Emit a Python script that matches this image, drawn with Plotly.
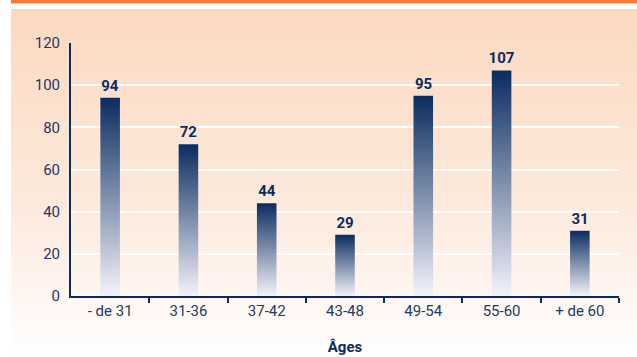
import plotly.graph_objects as go
import urllib.parse

categories = ["- de 31", "31-36", "37-42", "43-48", "49-54", "55-60", "+ de 60"]
values = [94, 72, 44, 29, 95, 107, 31]
y_ticks = [0, 20, 40, 60, 80, 100, 120]

NAVY = "#0b2c60"
TXT = "#1d3868"
BAR_W = 0.25

fig = go.Figure()

# transparent bars carry the value labels
fig.add_trace(go.Bar(
    x=list(range(len(categories))), y=values, width=BAR_W,
    marker=dict(color="rgba(0,0,0,0)", line=dict(width=0)),
    text=[str(v) for v in values], textposition="outside",
    constraintext="none",
    textfont=dict(family="Roboto", size=15, color=NAVY, weight="bold"),
    cliponaxis=False, showlegend=False, hoverinfo="skip",
))

# gradient-filled bars
for i, v in enumerate(values):
    x0, x1 = i - BAR_W / 2, i + BAR_W / 2
    fig.add_trace(go.Scatter(
        x=[x0, x1, x1, x0, x0], y=[0, 0, v, v, 0],
        mode="lines", line=dict(width=0), fill="toself",
        fillgradient=dict(type="vertical",
                          colorscale=[[0, "#f3f3fa"], [1, NAVY]]),
        showlegend=False, hoverinfo="skip",
    ))

svg = ('<svg xmlns="http://www.w3.org/2000/svg" width="100" height="100" preserveAspectRatio="none">'
       '<defs><linearGradient id="g" x1="0" y1="0" x2="0" y2="1">'
       '<stop offset="0" stop-color="#fcd9c0"/><stop offset="0.6" stop-color="#fdebdf"/>'
       '<stop offset="1" stop-color="#ffffff"/></linearGradient></defs>'
       '<rect width="100" height="100" fill="url(#g)"/></svg>')
src = "data:image/svg+xml;charset=utf-8," + urllib.parse.quote(svg)

W, H = 637, 357
fig.add_layout_image(dict(
    source=src, xref="paper", yref="paper",
    x=-(71 - 11) / (619 - 71), y=1 + (43 - 9) / (296 - 43),
    sizex=(637 - 11) / (619 - 71), sizey=(357 - 9) / (296 - 43),
    xanchor="left", yanchor="top", sizing="stretch", layer="below",
))
# top orange stripe
fig.add_shape(type="rect", xref="paper", yref="paper",
              x0=-(71 - 11) / (619 - 71), x1=(637 - 71) / (619 - 71),
              y0=1 + (43 - 3.5) / (296 - 43), y1=1 + 43 / (296 - 43),
              fillcolor="#f47a38", line=dict(width=0), layer="below")

fig.update_layout(
    width=W, height=H,
    margin=dict(l=71, r=18, t=43, b=61),
    paper_bgcolor="white", plot_bgcolor="rgba(0,0,0,0)",
    font=dict(family="Roboto", color=TXT, size=14),
    bargap=0,
)
fig.update_xaxes(
    range=[-0.5, len(categories) - 0.5], automargin=False,
    tickmode="array", tickvals=list(range(len(categories))), ticktext=categories,
    ticks="", showgrid=False, zeroline=False,
    showline=True, linecolor=NAVY, linewidth=2,
    tickfont=dict(size=15, color=TXT),
    minor=dict(tickmode="array",
               tickvals=[i + 0.5 for i in range(len(categories))],
               ticks="outside", ticklen=5, tickwidth=1.5, tickcolor=NAVY, showgrid=False),
    title=dict(text="<b>Âges</b>", font=dict(size=15, color=NAVY), standoff=22),
)
fig.update_yaxes(
    range=[0, 120], tickvals=y_ticks, automargin=False,
    showgrid=True, gridcolor="white", gridwidth=1.5,
    zeroline=False, showline=True, linecolor=NAVY, linewidth=2,
    ticks="", ticklabelstandoff=6,
    tickfont=dict(size=15, color=TXT),
)

fig.write_html("out.html")
